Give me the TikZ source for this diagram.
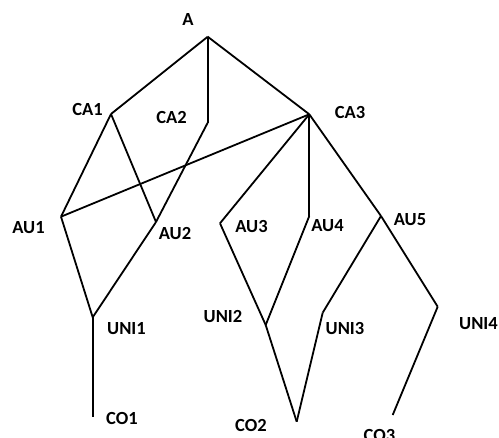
\documentclass[tikz,border=0pt]{standalone}
\usepackage{fontspec}
\setmainfont{Carlito}
\usepackage{tikz}
\usetikzlibrary{positioning}

\begin{document}
\begin{tikzpicture}[x=1pt, y=-1pt, line width=1.8pt, line join=miter]
   \clip (0,0) rectangle (499,438);
   % vertices
   \coordinate (a) at (207.7,36.7);
   \coordinate (ca1) at (111,114);
   \coordinate (ca2) at (207.7,122.7);
   \coordinate (ca3) at (309.3,114.3);
   \coordinate (au1) at (61,216.7);
   \coordinate (au2) at (156,222);
   \coordinate (au3) at (220,223.3);
   \coordinate (au4) at (309.3,216);
   \coordinate (au5) at (381,216);
   \coordinate (uni1) at (92.7,317.3);
   \coordinate (uni2) at (265.7,325);
   \coordinate (uni3) at (322.7,312.7);
   \coordinate (uni4) at (437.7,306.7);
   \coordinate (co1) at (92.7,416.7);
   \coordinate (co2) at (296.7,421.7);
   \coordinate (co3) at (392.7,415);
   \begin{scope}[every node/.style={inner sep=0pt, text depth=0pt, font=\bfseries\fontsize{18.5}{18.5}\selectfont}]
    \node (la) at (188,19.5) {A};
    \node (lca1) at (87.5,109.5) {CA1};
    \node (lca2) at (171.5,117.5) {CA2};
    \node (lca3) at (350,112.5) {CA3};
    \node (lau1) at (28.5,227) {AU1};
    \node (lau2) at (175,233) {AU2};
    \node (lau3) at (251.5,226) {AU3};
    \node (lau4) at (327.5,226) {AU4};
    \node (lau5) at (410,220) {AU5};
    \node (luni1) at (126.5,328.5) {UNI1};
    \node (luni2) at (223,316.5) {UNI2};
    \node (luni3) at (345,328) {UNI3};
    \node (luni4) at (478.5,323) {UNI4};
    \node (lco1) at (122,418.5) {CO1};
    \node (lco2) at (251,425) {CO2};
    \node (lco3) at (379.5,435) {CO3};
   \end{scope}
   \begin{scope}[every edge/.style={draw=black, line width=1.8pt}]
    \draw (a) edge (ca1);
    \draw (a) edge (ca2);
    \draw (a) edge (ca3);
    \draw (ca1) edge (au1);
    \draw (ca1) edge (au2);
    \draw (ca2) edge (au2);
    \draw (ca3) edge (au1);
    \draw (ca3) edge (au3);
    \draw (ca3) edge (au4);
    \draw (ca3) edge (au5);
    \draw (au1) edge (uni1);
    \draw (au2) edge (uni1);
    \draw (au3) edge (uni2);
    \draw (au4) edge (uni2);
    \draw (au5) edge (uni3);
    \draw (au5) edge (uni4);
    \draw (uni1) edge (co1);
    \draw (uni2) edge (co2);
    \draw (uni3) edge (co2);
    \draw (uni4) edge (co3);
   \end{scope}
\end{tikzpicture}
\end{document}
